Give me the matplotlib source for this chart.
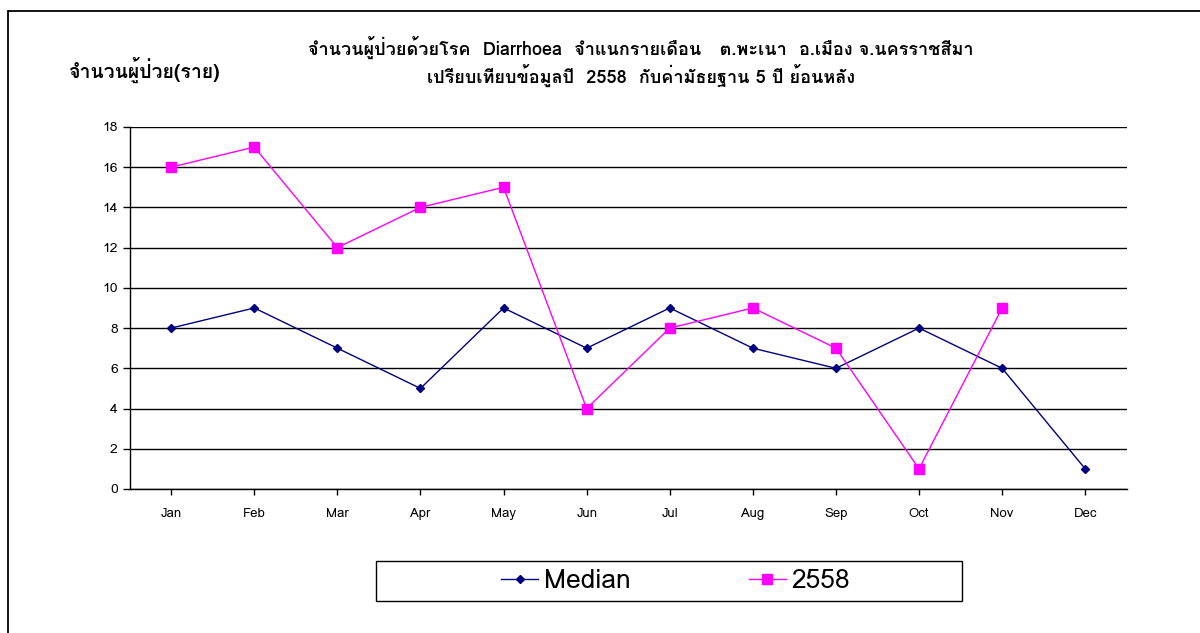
import matplotlib
matplotlib.use("Agg")
import matplotlib.pyplot as plt
from matplotlib import font_manager
from matplotlib.ft2font import FT2Font
import numpy as np

months = ["Jan", "Feb", "Mar", "Apr", "May", "Jun", "Jul", "Aug", "Sep", "Oct", "Nov", "Dec"]
median = [8, 9, 7, 5, 9, 7, 9, 7, 6, 8, 6, 1]
y2558 = [16, 17, 12, 14, 15, 4, 8, 9, 7, 1, 9, np.nan]

title = ("จำนวนผู้ป่วยด้วยโรค  Diarrhoea  จำแนกรายเดือน   ต.พะเนา  อ.เมือง จ.นครราชสีมา\n"
         "เปรียบเทียบข้อมูลปี  2558  กับค่ามัธยฐาน 5 ปี ย้อนหลัง")
ylabel = "จำนวนผู้ป่วย(ราย)"

# หา font ที่มีอักษรไทย
thai_fonts = []
for f in font_manager.fontManager.ttflist:
    try:
        ft = FT2Font(f.fname)
        if ft.get_char_index(ord("จ")):
            thai_fonts.append(f.name)
    except Exception:
        pass
thai_fonts = list(dict.fromkeys(thai_fonts))
plt.rcParams["font.family"] = thai_fonts[:1] + ["Liberation Sans", "DejaVu Sans"]

fig = plt.figure(figsize=(12, 6.33), dpi=100)
ax = fig.add_axes([0.108, 0.2275, 0.831, 0.572])

x = np.arange(len(months))
ax.plot(x, median, color="#000080", marker="D", markersize=4.5, linewidth=1, label="Median")
ax.plot(x, y2558, color="#FF00FF", marker="s", markersize=7, linewidth=1, label="2558")

ax.set_xlim(-0.5, 11.5)
ax.set_ylim(0, 18)
ax.set_yticks(range(0, 19, 2))
ax.set_xticks(x)
ax.set_xticklabels(months, fontsize=9.5)
ax.tick_params(axis="y", labelsize=10, length=5, width=1)
ax.tick_params(axis="x", length=4, width=1, pad=10)
ax.yaxis.grid(True, color="black", linewidth=1)
ax.set_axisbelow(True)
for s in ["top", "right"]:
    ax.spines[s].set_visible(False)
for s in ["left", "bottom"]:
    ax.spines[s].set_linewidth(1)

fig.text(0.534, 0.903, title, ha="center", va="center", fontsize=13, fontweight="bold", linespacing=1.3)
fig.text(0.121, 0.889, ylabel, ha="center", va="center", fontsize=14, fontweight="bold")

# กรอบ legend
fig.patches.append(plt.Rectangle((0.313, 0.0506), 0.489, 0.063, transform=fig.transFigure,
                                 fill=False, edgecolor="black", linewidth=1))
fig.legend(loc="center", bbox_to_anchor=(0.563, 0.0821), ncol=2, fontsize=19, frameon=False,
           handlelength=1.4, handletextpad=0.2, columnspacing=4.5, borderaxespad=0)

# กรอบนอก (ขอบขวาและล่างเลยภาพ)
fig.patches.append(plt.Rectangle((0.0065, -0.01), 1.0, 0.9926, transform=fig.transFigure,
                                 fill=False, edgecolor="black", linewidth=1.3))

fig.savefig("out.png", dpi=100)
